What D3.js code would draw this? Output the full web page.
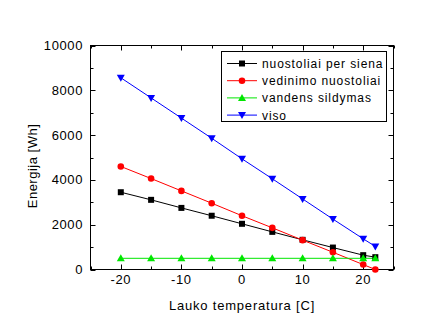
<!DOCTYPE html>
<html><head><meta charset="utf-8">
<script src="https://cdn.jsdelivr.net/npm/d3@7"></script>
<style>body{margin:0;background:#fff;} text{font-family:Arial,"Liberation Sans",sans-serif;}</style>
</head><body>
<svg id="c" width="438" height="335"></svg>
<script>
const temps = [-20,-15,-10,-5,0,5,10,15,20,22];
const sienaVals = [3450,3110,2750,2400,2040,1680,1325,980,640,550];
const vedinimoVals = [4600,4060,3510,2960,2400,1860,1310,770,220,0];
const vandensVals = [500,500,500,500,500,500,500,500,500,500];
const visoVals = [8560,7660,6760,5860,4940,4050,3150,2250,1370,1030];
const seriesNames = ["nuostoliai per siena","vedinimo nuostoliai","vandens sildymas","viso"];
const xTicks = [-20,-10,0,10,20];
const yTicks = [0,2000,4000,6000,8000,10000];
const xTitle = "Lauko temperatura [C]";
const yTitle = "Energija [Wh]";

const series = [
  {name:seriesNames[0], vals:sienaVals, color:"#000000", marker:"square"},
  {name:seriesNames[1], vals:vedinimoVals, color:"#ff0000", marker:"circle"},
  {name:seriesNames[2], vals:vandensVals, color:"#00e600", marker:"tri"},
  {name:seriesNames[3], vals:visoVals, color:"#0000ff", marker:"tridown"}
];

const svg = d3.select("#c");
const L=90.5, R=393.5, T=45.5, B=269.5;
const x = d3.scaleLinear().domain([-25,25]).range([L,R]);
const y = d3.scaleLinear().domain([0,10000]).range([B,T]);

function sym(m){
  if(m==="square") return d3.symbol().type(d3.symbolSquare).size(36)();
  if(m==="circle") return d3.symbol().type(d3.symbolCircle).size(34)();
  if(m==="tri") return "M0,-4L4,3L-4,3Z";
  return "M0,4L4,-3L-4,-3Z";
}

// frame
svg.append("rect").attr("x",L).attr("y",T).attr("width",R-L).attr("height",B-T)
  .attr("fill","none").attr("stroke","#000").attr("stroke-width",1);

// ticks (inward on all sides)
const g = svg.append("g").attr("stroke","#000").attr("stroke-width",1);
d3.range(-25,26,5).forEach(v=>{
  const major = xTicks.includes(v); const len = major?5:3;
  const xx = Math.round(x(v))+0.5;
  g.append("line").attr("x1",xx).attr("x2",xx).attr("y1",B).attr("y2",B-len);
  g.append("line").attr("x1",xx).attr("x2",xx).attr("y1",T).attr("y2",T+len);
});
d3.range(0,10001,1000).forEach(v=>{
  const major = yTicks.includes(v); const len = major?5:3;
  const yy = Math.round(y(v))+0.5;
  g.append("line").attr("y1",yy).attr("y2",yy).attr("x1",L).attr("x2",L+len);
  g.append("line").attr("y1",yy).attr("y2",yy).attr("x1",R).attr("x2",R-len);
});

// tick labels
xTicks.forEach(v=>{
  svg.append("text").attr("x",x(v)).attr("y",284).attr("text-anchor","middle")
    .attr("font-size",13).attr("letter-spacing",0.6).text(v);
});
yTicks.forEach(v=>{
  svg.append("text").attr("x",83).attr("y",y(v)+4.5).attr("text-anchor","end")
    .attr("font-size",13).attr("letter-spacing",0.6).text(v);
});

// titles
svg.append("text").attr("x",242).attr("y",310).attr("text-anchor","middle")
  .attr("font-size",13).attr("letter-spacing",0.8).text(xTitle);
svg.append("text").attr("transform","translate(37,166) rotate(-90)").attr("text-anchor","middle")
  .attr("font-size",13).attr("letter-spacing",0.5).text(yTitle);

// series
const line = d3.line().x((d,i)=>x(temps[i])).y(d=>y(d));
series.forEach(s=>{
  svg.append("path").attr("d",line(s.vals)).attr("fill","none").attr("stroke",s.color).attr("stroke-width",1);
});
series.forEach(s=>{
  svg.append("g").selectAll("path").data(s.vals).join("path")
    .attr("transform",(d,i)=>`translate(${x(temps[i])},${y(d)})`)
    .attr("d",sym(s.marker)).attr("fill",s.color);
});

// legend
const lg = svg.append("g");
lg.append("rect").attr("x",221.5).attr("y",51.5).attr("width",165).attr("height",70)
  .attr("fill","#fff").attr("stroke","#000").attr("stroke-width",1);
series.forEach((s,i)=>{
  const yy = 63.5 + i*17.2;
  lg.append("line").attr("x1",227).attr("x2",257).attr("y1",yy).attr("y2",yy).attr("stroke",s.color).attr("stroke-width",1);
  lg.append("path").attr("transform",`translate(242,${yy})`).attr("d",sym(s.marker)).attr("fill",s.color);
  lg.append("text").attr("x",262).attr("y",yy+4.5).attr("font-size",12).attr("letter-spacing",0.9).text(s.name);
});
</script>
</body></html>
